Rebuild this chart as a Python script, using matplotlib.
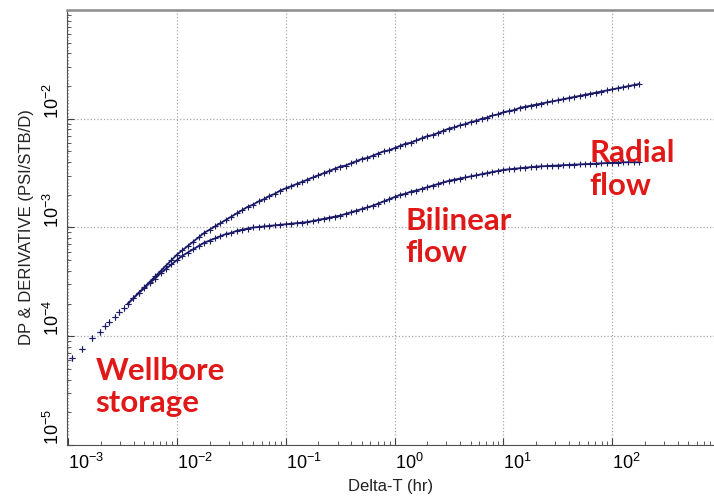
import numpy as np
import matplotlib
matplotlib.use("Agg")
import matplotlib.pyplot as plt
from matplotlib.ticker import LogLocator, LogFormatterSciNotation, NullFormatter, FixedLocator

plt.rcParams['font.family'] = ['Liberation Sans', 'DejaVu Sans']
plt.rcParams['mathtext.fontset'] = 'custom'
plt.rcParams['mathtext.rm'] = 'Liberation Sans'
plt.rcParams['mathtext.it'] = 'Liberation Sans:italic'
plt.rcParams['mathtext.default'] = 'regular'

# ---- data (log10 values) ----
early_logt = [-2.96, -2.87, -2.78, -2.71, -2.66, -2.62, -2.57, -2.53, -2.49]
early_logp = [-4.20, -4.12, -4.02, -3.96, -3.91, -3.87, -3.82, -3.78, -3.74]

logt = [-2.45, -2.40, -2.35, -2.30, -2.25, -2.20, -2.15, -2.10, -2.05, -2.00,
        -1.95, -1.90, -1.85, -1.80, -1.75, -1.70, -1.65, -1.60, -1.55, -1.50,
        -1.45, -1.40, -1.35, -1.30, -1.25, -1.20, -1.15, -1.10, -1.05, -1.00,
        -0.95, -0.90, -0.85, -0.80, -0.75, -0.70, -0.65, -0.60, -0.55, -0.50,
        -0.45, -0.40, -0.35, -0.30, -0.25, -0.20, -0.15, -0.10, -0.05, 0.00,
        0.05, 0.10, 0.15, 0.20, 0.25, 0.30, 0.35, 0.40, 0.45, 0.50,
        0.55, 0.60, 0.65, 0.70, 0.75, 0.80, 0.85, 0.90, 0.95, 1.00,
        1.05, 1.10, 1.15, 1.20, 1.25, 1.30, 1.35, 1.40, 1.45, 1.50,
        1.55, 1.60, 1.65, 1.70, 1.75, 1.80, 1.85, 1.90, 1.95, 2.00,
        2.05, 2.10, 2.15, 2.20, 2.25]

log_dp = [-3.70, -3.65, -3.60, -3.55, -3.50, -3.45, -3.40, -3.35, -3.30, -3.25,
          -3.21, -3.17, -3.13, -3.09, -3.05, -3.02, -2.99, -2.96, -2.93, -2.90,
          -2.87, -2.84, -2.81, -2.79, -2.76, -2.74, -2.71, -2.69, -2.66, -2.64,
          -2.62, -2.60, -2.58, -2.56, -2.54, -2.52, -2.50, -2.48, -2.46, -2.44,
          -2.43, -2.41, -2.39, -2.37, -2.36, -2.34, -2.32, -2.30, -2.29, -2.27,
          -2.25, -2.23, -2.22, -2.20, -2.18, -2.16, -2.15, -2.13, -2.11, -2.09,
          -2.08, -2.06, -2.05, -2.03, -2.02, -2.00, -1.99, -1.97, -1.96, -1.94,
          -1.93, -1.92, -1.90, -1.89, -1.88, -1.87, -1.86, -1.85, -1.84, -1.83,
          -1.82, -1.81, -1.80, -1.79, -1.78, -1.77, -1.76, -1.75, -1.74, -1.73,
          -1.72, -1.71, -1.70, -1.69, -1.68]

log_deriv = [-3.70, -3.65, -3.60, -3.56, -3.51, -3.47, -3.42, -3.38, -3.34, -3.30,
             -3.26, -3.23, -3.20, -3.17, -3.14, -3.12, -3.10, -3.08, -3.06, -3.05,
             -3.03, -3.02, -3.01, -3.00, -2.995, -2.99, -2.985, -2.98, -2.975, -2.97,
             -2.965, -2.96, -2.955, -2.95, -2.94, -2.93, -2.92, -2.91, -2.90, -2.89,
             -2.875, -2.86, -2.845, -2.83, -2.815, -2.80, -2.78, -2.76, -2.74, -2.72,
             -2.70, -2.69, -2.67, -2.66, -2.645, -2.63, -2.615, -2.60, -2.585, -2.57,
             -2.56, -2.55, -2.54, -2.53, -2.52, -2.51, -2.50, -2.49, -2.48, -2.47,
             -2.465, -2.46, -2.455, -2.45, -2.445, -2.44, -2.437, -2.435, -2.432, -2.43,
             -2.427, -2.425, -2.422, -2.42, -2.417, -2.415, -2.412, -2.41, -2.407, -2.405,
             -2.403, -2.40, -2.40, -2.40, -2.40]

x_ticks = [1e-3, 1e-2, 1e-1, 1e0, 1e1, 1e2]
y_ticks = [1e-5, 1e-4, 1e-3, 1e-2]

annotations = [("Wellbore\nstorage", 1.78e-3, 2.0e-5),
               ("Bilinear\nflow", 1.25, 4.8e-4),
               ("Radial\nflow", 62.0, 2.0e-3)]

t_all = 10 ** np.array(early_logt + logt)
dp = 10 ** np.array(early_logp + log_dp)
der = 10 ** np.array(early_logp + log_deriv)

# ---- figure ----
fig = plt.figure(figsize=(7.14, 4.98), dpi=100)
ax = fig.add_axes([67 / 714, 1 - 445 / 498, 1 - 67 / 714, (445 - 10) / 498])
ax.set_xscale('log')
ax.set_yscale('log')
ax.set_xlim(10 ** -3.01, 10 ** 2.936)
ax.set_ylim(1e-5, 1e-1)

navy = '#1b1b68'
n0 = len(early_logt)
for ty in (dp, der):
    ax.plot(t_all[n0:], ty[n0:], '-', color=navy, lw=1.3)
    ax.plot(t_all, ty, '+', color=navy, ms=4.5, mew=0.8, ls='none')

ax.grid(True, which='major', ls=':', color='#a8a8a8', lw=0.9)
ax.set_axisbelow(True)

ax.xaxis.set_major_locator(FixedLocator(x_ticks))
ax.yaxis.set_major_locator(FixedLocator(y_ticks))
ax.xaxis.set_minor_locator(LogLocator(base=10, subs=np.arange(2, 10), numticks=20))
ax.yaxis.set_minor_locator(LogLocator(base=10, subs=np.arange(2, 10), numticks=20))
ax.xaxis.set_minor_formatter(NullFormatter())
ax.yaxis.set_minor_formatter(NullFormatter())
ax.xaxis.set_major_formatter(LogFormatterSciNotation())
ax.yaxis.set_major_formatter(LogFormatterSciNotation())

ax.tick_params(which='both', direction='in', top=False, right=False, color='#404040')
ax.tick_params(which='major', length=5, labelsize=13)
ax.tick_params(axis='x', which='major', pad=6)
ax.tick_params(axis='y', which='major', pad=3)
ax.tick_params(which='minor', length=3)
for lab in ax.get_xticklabels():
    lab.set_horizontalalignment('left')
for lab in ax.get_yticklabels():
    lab.set_rotation(90)
    lab.set_verticalalignment('bottom')

ax.spines['right'].set_visible(False)
ax.spines['top'].set_color('#8c8c8c')
ax.spines['top'].set_linewidth(1.8)
ax.spines['left'].set_color('#505050')
ax.spines['bottom'].set_color('#505050')

ax.set_xlabel('Delta-T (hr)', fontsize=12, labelpad=4, color='#222222')
ax.set_ylabel('DP & DERIVATIVE (PSI/STB/D)', fontsize=12, labelpad=6, color='#222222')

for txt, xx, yy in annotations:
    ax.text(xx, yy, txt, color='#e01818', fontsize=22.5, fontweight='bold',
            family=['Lato', 'DejaVu Sans'], ha='left', va='baseline', linespacing=1.2)

fig.savefig('out.png', dpi=100)
